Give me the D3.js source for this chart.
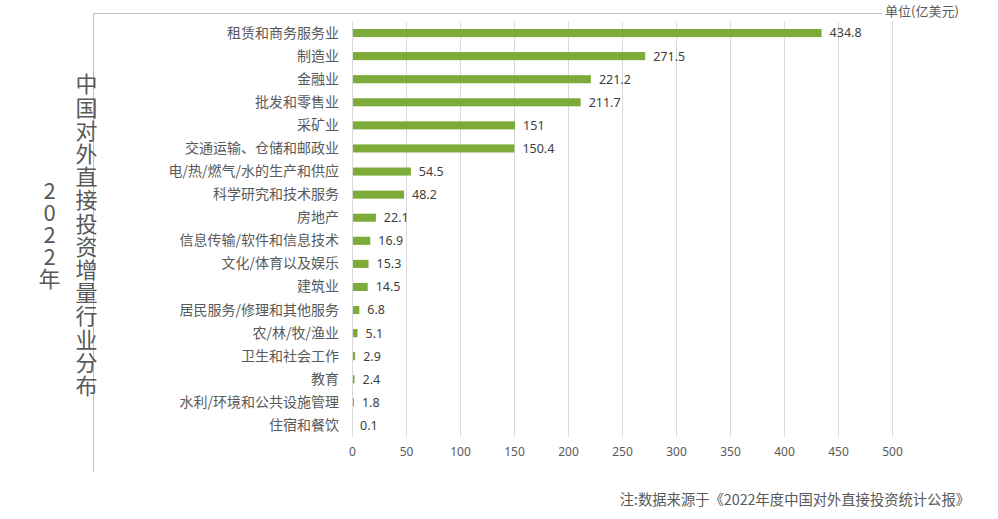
<!DOCTYPE html>
<html>
<head>
<meta charset="utf-8">
<script src="https://cdn.jsdelivr.net/npm/d3@7"></script>
<style>
  html, body { margin: 0; padding: 0; background: #fff; }
  svg { display: block; font-family: "Noto Sans CJK SC", "Noto Sans", sans-serif; }
  .vtitle { writing-mode: vertical-rl; text-orientation: upright; }
</style>
</head>
<body>
<svg id="chart" width="998" height="519"></svg>
<script>
const industries = [
  "租赁和商务服务业", "制造业", "金融业", "批发和零售业", "采矿业",
  "交通运输、仓储和邮政业", "电/热/燃气/水的生产和供应", "科学研究和技术服务",
  "房地产", "信息传输/软件和信息技术", "文化/体育以及娱乐", "建筑业",
  "居民服务/修理和其他服务", "农/林/牧/渔业", "卫生和社会工作", "教育",
  "水利/环境和公共设施管理", "住宿和餐饮"
];
const increments = [434.8, 271.5, 221.2, 211.7, 151, 150.4, 54.5, 48.2, 22.1, 16.9, 15.3, 14.5, 6.8, 5.1, 2.9, 2.4, 1.8, 0.1];
const xTicks = [0, 50, 100, 150, 200, 250, 300, 350, 400, 450, 500];
const titleMain = "中国对外直接投资增量行业分布";
const titleYear = "2022年";
const unitLabel = "单位(亿美元)";
const sourceNote = "注:数据来源于《2022年度中国对外直接投资统计公报》";

const data = industries.map((name, i) => ({ name, value: increments[i] }));

const svg = d3.select("#chart");
const margin = { top: 21.5, left: 352, right: 106, bottom: 82 };
const width = 998, height = 519;

const x = d3.scaleLinear()
  .domain([0, 500])
  .range([margin.left, width - margin.right]);

const y = d3.scaleBand()
  .domain(industries)
  .range([margin.top, height - margin.bottom])
  .paddingInner(0.65)
  .paddingOuter(0.325);

// outer frame lines (top and left)
svg.append("line")
  .attr("x1", 93).attr("x2", 882).attr("y1", 13.5).attr("y2", 13.5)
  .attr("stroke", "#bfbfbf").attr("stroke-width", 1);
svg.append("line")
  .attr("x1", 93.5).attr("x2", 93.5).attr("y1", 13).attr("y2", 472)
  .attr("stroke", "#bfbfbf").attr("stroke-width", 1);

// gridlines
svg.append("g")
  .selectAll("line")
  .data(xTicks.slice(1))
  .join("line")
  .attr("x1", d => Math.round(x(d)) + 0.5)
  .attr("x2", d => Math.round(x(d)) + 0.5)
  .attr("y1", margin.top)
  .attr("y2", height - margin.bottom)
  .attr("stroke", "#d9d9d9");

// x axis labels
const xAxis = svg.append("g")
  .attr("transform", `translate(0,${height - margin.bottom + 10})`)
  .call(d3.axisBottom(x).tickValues(xTicks).tickSize(0).tickPadding(0));
xAxis.select(".domain").remove();
xAxis.selectAll("text")
  .attr("font-size", 12)
  .attr("font-family", "\"Noto Sans\", sans-serif")
  .attr("fill", "#595959");

// bars
svg.append("g")
  .selectAll("rect")
  .data(data)
  .join("rect")
  .attr("x", x(0))
  .attr("y", d => y(d.name))
  .attr("width", d => x(d.value) - x(0))
  .attr("height", y.bandwidth())
  .attr("fill", "#7cab3a");

// category axis
const yAxis = svg.append("g")
  .attr("transform", `translate(${x(0)},0)`)
  .call(d3.axisLeft(y).tickSize(0).tickPadding(13));
yAxis.select(".domain")
  .attr("stroke", "#d9d9d9")
  .attr("d", `M0.5,${margin.top}V${height - margin.bottom}`);
yAxis.selectAll("text")
  .attr("font-size", 14)
  .attr("font-family", "\"Noto Sans CJK SC\", sans-serif")
  .attr("fill", "#595959");

// value labels
svg.append("g")
  .selectAll("text")
  .data(data)
  .join("text")
  .attr("x", d => x(d.value) + 8)
  .attr("y", d => y(d.name) + y.bandwidth() / 2)
  .attr("dy", "0.35em")
  .attr("font-size", 12.5)
  .attr("font-family", "\"Noto Sans\", sans-serif")
  .attr("fill", "#404040")
  .text(d => d.value);

// vertical titles
svg.append("text")
  .attr("class", "vtitle")
  .attr("x", 86.5)
  .attr("y", 73)
  .attr("font-size", 22)
  .attr("letter-spacing", 1.2)
  .attr("fill", "#595959")
  .text(titleMain);

svg.append("text")
  .attr("class", "vtitle")
  .attr("x", 49.5)
  .attr("y", 180)
  .attr("font-size", 22)
  .attr("fill", "#595959")
  .text(titleYear);

// unit label
svg.append("text")
  .attr("x", 885)
  .attr("y", 16)
  .attr("font-size", 13)
  .attr("fill", "#595959")
  .text(unitLabel);

// source note
svg.append("text")
  .attr("x", 970)
  .attr("y", 505)
  .attr("text-anchor", "end")
  .attr("font-size", 14.3)
  .attr("fill", "#595959")
  .text(sourceNote);
</script>
</body>
</html>
